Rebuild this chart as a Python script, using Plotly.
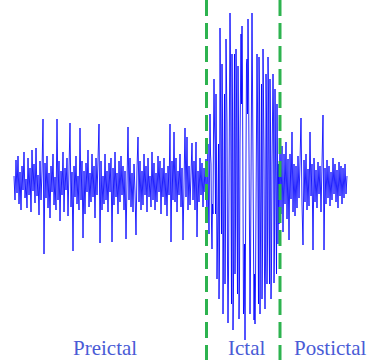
import plotly.graph_objects as go

# EEG amplitude samples (arbitrary units)
# preictal / postictal: one sample per time step; ictal: two samples per step
preictal = [
    8, -16, 24, -9, 28, -20, 12, -26, 18, -6, 32, -14, 5, -24, 26, -11,
    16, -28, 34, -7, 20, -19, 36, -12, 9, -31, 23, -16, 13, 65, -70, 21,
    -14, 28, -24, 11, -34, 18, -8, 30, -21, 7, -26, 65, -16, 23, -37, 13,
    -11, 32, -28, 16, -6, 26, -32, 19, 61, -23, 12, -67, 18, -13, 28, -20,
    8, -26, 56, -16, 23, -54, 13, -30, 21, -8, 34, -23, 11, -18, 30, -13,
    18, -34, 26, -11, 16, 60, -59, 23, -26, 8, -20, 30, -16, 13, -28, 21,
    -8, 26, -58, 16, -21, 32, -13, 11, -30, 23, -18, 28, -11, 18, -26, 13,
    -55, 21, 57, -16, 26, -23, 11, -28, 20, -8, -51, 16, 47, -18, 23, -26,
    13, -21, 30, -11, 18, -28, 26, -13, 8, -23, 32, -16, 21, -26, 11, -18,
    28, -8, 23, -30, 16, -13, 26, -21, 11, -32, 18, -11, 60, -58, 23, -16,
    52, -18, 26, -28, 13, -11, 30, -23, 16, -56, 21, 56, -13, 47, -26, 18,
    -21, 28, 41, -16, 23, -26, 42, -53, 13, -18, 26, -11, 21, -23, 16, -8,
]

ictal = [
    25, -10, -30, 15, 40, -20, -50, 10, 70, 30, 20, -40, -65, -20, -30, 50,
    105, 60, 40, -30, 90, 20, -95, -60, -20, 40, -115, -70, 156, 80, 30, -50,
    120, 70, -130, -60, 10, 90, -100, -40, 145, 100, 60, -80, -139, -90, 20, 110,
    171, 120, -40, -120, 130, 80, -146, -100, 50, 130, -90, -40, 135, 90, -30, -110,
    118, 60, -135, -95, 40, 110, 150, 80, 158, 100, -60, -130, -120, -60, -156, -100,
    30, 120, 125, 70, 165, 110, -50, -120, -130, -80, 60, 140, 171, 100, -20, -125,
    -136, -90, -140, -100, 40, 120, 130, 80, -70, -120, 127, 90, -130, -80, 20, 100,
    -115, -70, 135, 90, 30, -90, -125, -80, 110, 70, -100, -60, 127, 90, -40, -100,
    105, 60, -115, -80, 20, 90, 110, 70, -99, -60, 95, 50, -60, -90, 80, 40,
    -60, 20,
]

postictal = [
    -40, 45, -30, 38, -48, 30, -20, 42, -35, 25, -56, 30, -15, 52, -28, 20,
    -32, 18, -24, 28, -14, 22, 66, -20, -61, 24, -18, 30, -26, 15, -22, 52,
    -12, 20, -66, 26, -18, 14, -24, 22, -10, 18, -28, 20, 69, -66, 16, -20,
    24, -14, 18, -22, 12, -16, 26, -10, 20, -18, 14, -24, 22, -12, 18, -20,
    16, -14, 20, -10, 8,
]

phase_labels = ["Preictal", "Ictal", "Postictal"]

n_pre = len(preictal)
n_ict = len(ictal) / 2
t = ([i for i in range(n_pre)]
     + [n_pre + k * 0.5 for k in range(len(ictal))]
     + [n_pre + n_ict + i for i in range(len(postictal))])
signal = preictal + ictal + postictal
b1 = n_pre + 0.5
b2 = n_pre + n_ict + 1

W, H = 369, 360

fig = go.Figure()
fig.add_trace(go.Scatter(
    x=t, y=signal, mode="lines",
    line=dict(color="rgba(0,0,255,0.85)", width=1),
    hoverinfo="skip", showlegend=False,
))

for xb in (b1, b2):
    fig.add_shape(type="line", xref="x", yref="paper",
                  x0=xb, x1=xb, y0=1.0, y1=0.0,
                  line=dict(color="#2db34f", width=3, dash="16px,7px"))

label_px = [105, 246, 330]
for lab, px in zip(phase_labels, label_px):
    fig.add_annotation(text=lab, x=px / W, y=12 / H,
                       xref="paper", yref="paper", showarrow=False,
                       xanchor="center", yanchor="middle",
                       font=dict(family="Times New Roman, Liberation Serif, serif",
                                 size=21, color="#4a5bd6"))

fig.update_layout(
    width=W, height=H,
    margin=dict(l=0, r=0, t=0, b=0),
    paper_bgcolor="white", plot_bgcolor="white",
    xaxis=dict(range=[-14, 355], visible=False, fixedrange=True),
    yaxis=dict(range=[-176, 184], visible=False, fixedrange=True),
)

fig.write_html(
    "out.html",
    config={"displayModeBar": False, "staticPlot": True},
    post_script="document.body.style.margin='0';document.body.style.overflow='hidden';",
)
